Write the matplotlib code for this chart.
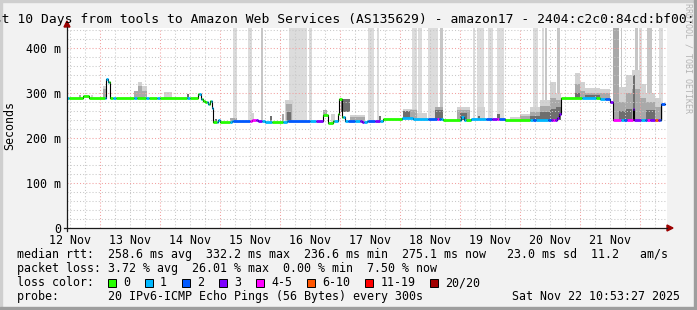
import matplotlib
matplotlib.use("Agg")
import matplotlib.pyplot as plt
import numpy as np
import pandas as pd
from matplotlib.lines import Line2D
from matplotlib.patches import Polygon, Rectangle

# window: 10 days ending Sat Nov 22 10:53:27 2025, times in hours since window start
window_start = pd.Timestamp("2025-11-12 10:53:27")
window_hours = 240
data_end = 239.2

# median rtt (ms), step changes
median_t = [0, 6.4, 8.8, 15.6, 16.4, 17.2, 52.4, 53.6, 54.4, 55.2, 56.4, 57.2, 58.0, 58.4,
            60.4, 61.2, 66.0, 74.0, 76.4, 79.2, 88.0, 102.4, 104.4, 106.4, 108.4, 108.8,
            110.0, 111.2, 118.0, 120.0, 126.4, 134.0, 138.4, 150.4, 157.6, 158.8, 161.6,
            175.2, 185.2, 196.0, 196.8, 197.6, 213.2, 217.2, 218.4, 226.4, 226.8, 237.6]
median_v = [289, 293, 289, 331, 325, 289, 298, 287, 283, 280, 276, 282, 267, 236,
            240, 236, 238, 240, 238, 236, 238, 251, 234, 238, 253, 286,
            247, 238, 235, 238, 242, 244, 242, 240, 246, 240, 242,
            240, 241, 244, 253, 288, 286, 281, 241, 264, 241, 275.1]

# packet loss category (index into loss_labels), step changes
loss_t = [0, 0.8, 15.2, 16.8, 18.4, 19.6, 26.8, 28.0, 31.6, 32.8, 36.0, 37.2, 48.0, 49.2,
          52.8, 54.0, 56.0, 56.8, 57.6, 58.4, 60.0, 61.2, 65.2, 66.4, 73.2, 75.6, 78.0,
          82.0, 86.4, 88.4, 97.2, 99.6, 102.4, 106.8, 108.4, 110.4, 112.4, 115.2, 117.2,
          118.8, 120.4, 123.2, 125.2, 126.4, 134.0, 144.4, 148.0, 148.8, 149.6, 150.4,
          157.2, 159.6, 161.6, 167.6, 170.0, 172.0, 172.8, 175.2, 185.2, 186.4, 187.6,
          192.4, 193.6, 194.4, 195.2, 197.6, 206.0, 211.6, 213.2, 215.2, 217.2, 218.4,
          221.6, 222.8, 224.0, 226.4, 229.6, 231.2, 232.0, 233.2, 235.2, 236.4, 237.2]
loss_c = [1, 0, 1, 0, 1, 0, 1, 0, 1, 0, 1, 0, 1, 0,
          1, 0, 1, 0, 1, 0, 1, 0, 1, 2, 4, 3, 1,
          0, 1, 2, 1, 3, 0, 1, 0, 1, 2, 1, 3,
          1, 2, 3, 1, 0, 1, 2, 4, 2, 1, 0,
          1, 0, 1, 2, 3, 4, 2, 0, 1, 2, 1,
          2, 3, 4, 3, 0, 1, 0, 1, 2, 3, 4,
          1, 2, 4, 3, 1, 2, 4, 3, 5, 3, 2]

loss_labels = ["0", "1", "2", "3", "4-5", "6-10", "11-19", "20/20"]
loss_colors = ["#26ff00", "#00b8ff", "#0059ff", "#7e00ff", "#ff00ff", "#ff5500", "#ff0000", "#a10000"]

# smoke: spread of the 20 pings above the median (band 0 = outer, 2 = inner)
smoke_start = [4.8, 9.6, 14.4, 14.4, 26.8, 28.4, 28.4, 30.0, 30.0, 38.8, 48.0,
               59.2, 65.2, 73.6, 81.2, 86.0, 87.2, 87.6, 88.0, 102.4, 105.6, 109.6, 109.6,
               113.2, 113.2, 124.8, 134.4, 134.4, 137.2, 140.0, 147.2, 147.2, 156.0, 156.0,
               157.0, 164.0, 164.4, 172.0, 177.2, 181.2, 181.2, 185.2, 185.2, 185.2,
               189.2, 189.2, 189.2, 193.2, 193.2, 193.2, 195.6, 195.6, 195.6,
               203.2, 203.2, 203.2, 205.2, 205.2, 207.2, 207.2, 207.2, 213.2, 213.2,
               220.8, 220.8, 220.8, 223.6, 223.6, 223.6, 226.0, 226.0, 226.4,
               229.2, 229.2, 231.6, 231.6, 231.6, 235.2, 235.2]
smoke_end = [5.6, 10.4, 15.6, 15.6, 28.4, 30.0, 30.0, 32.0, 32.0, 42.0, 48.8,
             60.0, 68.0, 74.8, 82.0, 86.8, 90.4, 90.0, 89.6, 104.0, 107.2, 113.2, 113.2,
             119.2, 119.2, 125.6, 137.2, 140.0, 140.0, 144.0, 150.4, 150.4, 161.2, 161.2,
             160.0, 167.2, 165.2, 173.2, 181.2, 185.2, 185.2, 189.2, 189.2, 189.2,
             193.2, 193.2, 193.2, 195.6, 195.6, 195.6, 197.6, 197.6, 197.6,
             205.2, 205.2, 205.2, 207.2, 207.2, 213.2, 213.2, 213.2, 217.2, 217.2,
             223.6, 223.6, 223.6, 226.0, 226.0, 226.0, 229.2, 229.2, 227.2,
             231.6, 231.6, 235.2, 235.2, 235.2, 237.6, 237.6]
smoke_top = [296, 296, 316, 309, 305, 325, 315, 315, 305, 302, 298,
             242, 244, 256, 250, 253, 284, 275, 258, 262, 253, 264, 258,
             252, 247, 249, 260, 264, 262, 256, 270, 262, 268, 262,
             255, 268, 250, 253, 246, 253, 248, 268, 258, 250,
             284, 272, 258, 325, 290, 265, 300, 285, 268,
             344, 320, 300, 325, 305, 312, 300, 295, 310, 300,
             314, 280, 260, 340, 300, 265, 351, 310, 340,
             320, 290, 300, 280, 262, 290, 270]
smoke_band = [1, 0, 0, 1, 1, 0, 1, 0, 1, 0, 2,
              2, 1, 0, 2, 1, 0, 1, 2, 1, 0, 0, 2,
              0, 1, 2, 2, 0, 1, 0, 1, 2, 0, 1,
              2, 0, 2, 2, 0, 0, 1, 0, 1, 2,
              0, 1, 2, 0, 1, 2, 0, 1, 2,
              0, 1, 2, 0, 1, 0, 1, 2, 0, 1,
              0, 1, 2, 0, 1, 2, 0, 1, 2,
              0, 1, 0, 1, 2, 0, 1]

# intervals where the slowest pings went off the scale
tall_start = [66.4, 72.4, 77.6, 88.8, 96.8, 120.4, 124.0, 138.0, 140.4, 144.4, 149.2,
              162.4, 164.0, 168.4, 172.0, 186.4, 190.0, 191.2, 196.0, 218.4, 221.6,
              227.2, 228.8, 232.0, 236.8]
tall_end = [68.0, 74.0, 78.4, 96.0, 98.0, 122.8, 124.8, 140.0, 142.0, 148.4, 150.4,
            163.2, 166.8, 170.4, 174.8, 188.4, 190.8, 192.0, 197.2, 220.8, 222.0,
            228.4, 230.0, 234.0, 238.4]
tall_band = [0, 0, 1, 0, 0, 0, 0, 0, 0, 0, 1,
             0, 0, 0, 0, 0, 0, 1, 1, 2, 1,
             1, 0, 1, 0]

y_ticks = [0, 100, 200, 300, 400]
y_tick_labels = ["0", "100 m", "200 m", "300 m", "400 m"]

title = "Last 10 Days from tools to Amazon Web Services (AS135629) - amazon17 - 2404:c2c0:84cd:bf00:"
stats_rtt = "median rtt:  258.6 ms avg  332.2 ms max  236.6 ms min  275.1 ms now   23.0 ms sd  11.2   am/s"
stats_loss = "packet loss: 3.72 % avg  26.01 % max  0.00 % min  7.50 % now"
probe_text = "probe:       20 IPv6-ICMP Echo Pings (56 Bytes) every 300s"
stamp_text = "Sat Nov 22 10:53:27 2025"

W, H = 697, 310
plt.rcParams["font.family"] = "DejaVu Sans Mono"


def fx(x):
    return x / W


def fy(y):
    return 1 - y / H


def step_at(ts, vs, t):
    i = np.searchsorted(ts, t, side="right") - 1
    return vs[max(i, 0)]


fig = plt.figure(figsize=(W / 100, H / 100), dpi=100, facecolor="#f2f2f2")
ax = fig.add_axes([fx(67), fy(228), 600 / W, 200 / H])
ax.set_facecolor("white")
ymax = 200 / 0.45
ax.set_xlim(0, window_hours)
ax.set_ylim(0, ymax)
for s in ax.spines.values():
    s.set_visible(False)

# time grid
hrs = lambda ts: (ts - window_start) / pd.Timedelta(hours=1)
midnights = hrs(pd.date_range("2025-11-13", periods=10, freq="D"))
noons = hrs(pd.date_range("2025-11-12 12:00", periods=10, freq="D"))
six_h = hrs(pd.date_range("2025-11-12 12:00", periods=40, freq="6h"))
minor_x = [v for v in six_h if min(abs(v - midnights)) > 0.5]
grid_kw = dict(lw=0.75, linestyle=(0, (1, 2)), zorder=4)
ax.vlines(minor_x, 0, ymax, colors="#c8c8c8", **grid_kw)
ax.vlines(midnights, 0, ymax, colors="#f2a0a0", **grid_kw)
minor_y = [v for v in range(20, 441, 20) if v % 100]
ax.hlines(minor_y, 0, window_hours, colors="#c8c8c8", **grid_kw)
ax.hlines(y_ticks[1:], 0, window_hours, colors="#f2a0a0", **grid_kw)

# off-scale bars and smoke
tall_grays = ["#dcdcdc", "#c6c6c6", "#a8a8a8"]
for a, b, k in zip(tall_start, tall_end, tall_band):
    base = step_at(median_t, median_v, a)
    ax.bar(a, ymax - base + 10, width=b - a, bottom=base, align="edge",
           color=tall_grays[k], lw=0, zorder=2)
smoke_grays = ["#d2d2d2", "#a9a9a9", "#6e6e6e"]
for band in range(3):
    for a, b, top, k in zip(smoke_start, smoke_end, smoke_top, smoke_band):
        if k != band:
            continue
        base = step_at(median_t, median_v, a)
        ax.bar(a, top - base, width=b - a, bottom=base, align="edge",
               color=smoke_grays[k], lw=0, zorder=3)

# median line: black steps, coloured by loss
ax.step(list(median_t) + [data_end], list(median_v) + [median_v[-1]], where="post",
        color="black", lw=0.8, zorder=5)
edges = sorted(set(median_t) | set(loss_t) | {data_end})
seg_v, seg_a, seg_b, seg_c = [], [], [], []
for a, b in zip(edges[:-1], edges[1:]):
    seg_v.append(step_at(median_t, median_v, a))
    seg_a.append(a)
    seg_b.append(b)
    seg_c.append(loss_colors[step_at(loss_t, loss_c, a)])
ax.hlines(seg_v, seg_a, seg_b, colors=seg_c, lw=2.0, zorder=6)

# ticks / labels
ax.set_xticks(noons, [d.strftime("%d %b").lstrip("0") for d in
                      pd.date_range("2025-11-12", periods=10, freq="D")])
ax.set_yticks(y_ticks, y_tick_labels)
ax.tick_params(length=0, labelsize=8.4, colors="black")
ax.tick_params(axis="x", pad=4)
ax.tick_params(axis="y", pad=4)
fig.text(fx(10), fy(126), "Seconds", rotation=90, ha="center", va="center", size=8.4)

# axes with arrows
axis_col = "#1a1a1a"
arrow_col = "#9b0000"
fig.add_artist(Line2D([fx(64), fx(667)], [fy(228), fy(228)], color=axis_col, lw=0.9))
fig.add_artist(Line2D([fx(67), fx(67)], [fy(231), fy(27)], color=axis_col, lw=0.9))
fig.add_artist(Polygon([(fx(667), fy(225)), (fx(667), fy(231)), (fx(673), fy(228))],
                       closed=True, color=arrow_col, transform=fig.transFigure))
fig.add_artist(Polygon([(fx(64), fy(27)), (fx(70), fy(27)), (fx(67), fy(21))],
                       closed=True, color=arrow_col, transform=fig.transFigure))

# title and credits
fig.text(fx(-21.5), fy(19.5), title, ha="left", va="center", size=9.4)
fig.text(fx(688), fy(58), "RRDTOOL / TOBI OETIKER", rotation=270, ha="center",
         va="center", size=6.0, color="#b4b4b4")

# legend block
fig.text(fx(17), fy(254.5), stats_rtt, ha="left", va="center", size=8.4)
fig.text(fx(17), fy(268.5), stats_loss, ha="left", va="center", size=8.4)
fig.text(fx(17), fy(282.5), "loss color:", ha="left", va="center", size=8.4)
x = 108
for lab, col in zip(loss_labels, loss_colors):
    fig.add_artist(Rectangle((fx(x), fy(287)), 8 / W, 8 / H, facecolor=col,
                             edgecolor="black", lw=0.7, transform=fig.transFigure))
    fig.text(fx(x + 15), fy(282.5), lab, ha="left", va="center", size=8.4)
    x = x + 15 + 7.02 * len(lab) + 15
fig.text(fx(17), fy(296.5), probe_text, ha="left", va="center", size=8.4)
fig.text(fx(680), fy(296.5), stamp_text, ha="right", va="center", size=8.4)

# frame shading
fig.add_artist(Rectangle((0, 0), 2 / W, 1, color="#cfcfcf", transform=fig.transFigure))
fig.add_artist(Rectangle((0, 1 - 2 / H), 1, 2 / H, color="#cfcfcf", transform=fig.transFigure))
fig.add_artist(Rectangle((1 - 3 / W, 0), 3 / W, 1, color="#9e9e9e", transform=fig.transFigure))
fig.add_artist(Rectangle((0, 0), 1, 3 / H, color="#9e9e9e", transform=fig.transFigure))

fig.savefig("out.png", dpi=100, facecolor=fig.get_facecolor())
